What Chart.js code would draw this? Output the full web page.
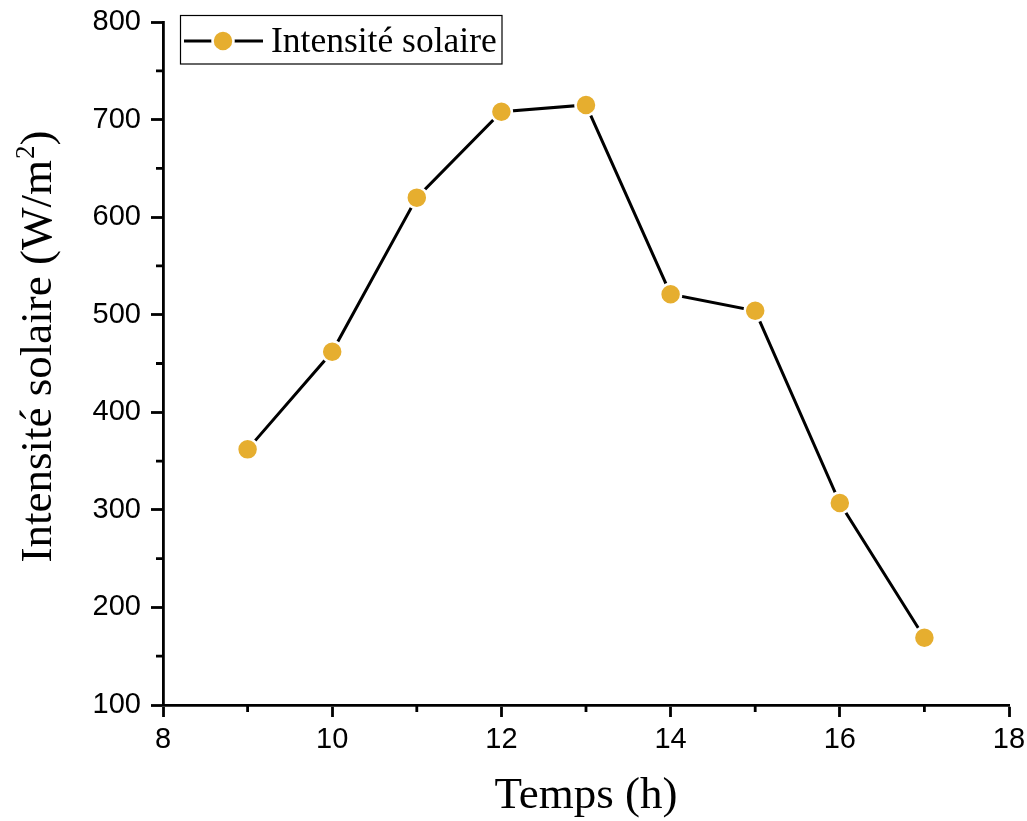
<!DOCTYPE html>
<html>
<head>
<meta charset="utf-8">
<title>Intensité solaire</title>
<script src="https://cdn.jsdelivr.net/npm/chart.js@4.4.1/dist/chart.umd.min.js"></script>
<style>
  html, body { margin: 0; padding: 0; background: #fff; }
  #wrap { width: 1027px; height: 821px; position: relative; }
</style>
</head>
<body>
<div id="wrap"><canvas id="solarChart"></canvas></div>
<script>
// heures de mesure et intensité solaire mesurée (W/m²)
const heures = [9, 10, 11, 12, 13, 14, 15, 16, 17];
const intensite = [362, 462, 620, 708, 715, 521, 504, 307, 169];

// graduations des axes
const xTicks = [8, 10, 12, 14, 16, 18];
const yTicks = [100, 200, 300, 400, 500, 600, 700, 800];
const xMinor = [9, 11, 13, 15, 17];
const yMinor = [150, 250, 350, 450, 550, 650, 750];

const yTitle = ['Intensité solaire (W/m', '2', ')'];

const OR = '#e6ae2f';
const SANS = "'Liberation Sans', Arial, sans-serif";
const SERIF = "'Liberation Serif', 'Times New Roman', serif";

// petites graduations (Chart.js ne gère qu'une longueur de tick)
const minorTicks = {
    id: 'minorTicks',
    afterDraw(chart) {
        const { ctx, chartArea, scales } = chart;
        ctx.save();
        ctx.strokeStyle = '#000';
        ctx.lineWidth = 2.8;
        ctx.beginPath();
        xMinor.forEach(v => {
            const px = scales.x.getPixelForValue(v);
            ctx.moveTo(px, chartArea.bottom);
            ctx.lineTo(px, chartArea.bottom + 7);
        });
        yMinor.forEach(v => {
            const py = scales.y.getPixelForValue(v);
            ctx.moveTo(chartArea.left, py);
            ctx.lineTo(chartArea.left - 7, py);
        });
        ctx.stroke();
        ctx.restore();
    }
};

// titre vertical avec l'exposant du m²
const yAxisTitle = {
    id: 'yAxisTitle',
    afterDraw(chart) {
        const { ctx } = chart;
        const big = `45px ${SERIF}`;
        const small = `27px ${SERIF}`;
        ctx.save();
        ctx.font = big;
        const w1 = ctx.measureText(yTitle[0]).width;
        const w3 = ctx.measureText(yTitle[2]).width;
        ctx.font = small;
        const w2 = ctx.measureText(yTitle[1]).width;
        const total = w1 + w2 + w3;
        ctx.translate(51, 347 + total / 2);
        ctx.rotate(-Math.PI / 2);
        ctx.fillStyle = '#000';
        ctx.textBaseline = 'alphabetic';
        ctx.textAlign = 'left';
        ctx.font = big;
        ctx.fillText(yTitle[0], 0, 0);
        ctx.font = small;
        ctx.fillText(yTitle[1], w1 + 1, -17);
        ctx.font = big;
        ctx.fillText(yTitle[2], w1 + w2 + 1, 0);
        ctx.restore();
    }
};

// légende encadrée dans le coin haut gauche du graphe
const legendBox = {
    id: 'legendBox',
    afterDraw(chart) {
        const { ctx } = chart;
        const ds = chart.data.datasets[0];
        ctx.save();
        ctx.strokeStyle = '#000';
        ctx.lineWidth = 1.2;
        ctx.strokeRect(180.5, 15.5, 321.5, 48.5);

        ctx.lineWidth = 3;
        ctx.beginPath();
        ctx.moveTo(184, 41);
        ctx.lineTo(263, 41);
        ctx.stroke();

        ctx.beginPath();
        ctx.arc(223, 41, 10.5, 0, Math.PI * 2);
        ctx.fillStyle = OR;
        ctx.fill();
        ctx.lineWidth = 2.5;
        ctx.strokeStyle = '#fff';
        ctx.stroke();

        ctx.font = `35.5px ${SERIF}`;
        ctx.fillStyle = '#000';
        ctx.textBaseline = 'alphabetic';
        ctx.fillText(ds.label, 271, 52);
        ctx.restore();
    }
};

const axisCommon = {
    type: 'linear',
    border: { display: true, color: '#000', width: 2.8 },
    grid: {
        display: true,
        drawOnChartArea: false,
        drawTicks: true,
        tickLength: 12,
        tickWidth: 2.8,
        tickColor: '#000',
        color: '#000'
    }
};

new Chart(document.getElementById('solarChart').getContext('2d'), {
    type: 'line',
    data: {
        datasets: [{
            label: 'Intensité solaire',
            data: heures.map((h, i) => ({ x: h, y: intensite[i] })),
            borderColor: '#000',
            borderWidth: 3,
            tension: 0,
            fill: false,
            pointRadius: 10.5,
            pointHoverRadius: 10.5,
            pointBackgroundColor: OR,
            pointBorderColor: '#fff',
            pointBorderWidth: 2.5
        }]
    },
    options: {
        responsive: true,
        maintainAspectRatio: false,
        animation: false,
        events: [],
        layout: { padding: { top: 22, right: 18, bottom: 0, left: 0 } },
        plugins: {
            legend: { display: false },
            tooltip: { enabled: false }
        },
        scales: {
            x: {
                ...axisCommon,
                position: 'bottom',
                min: 8,
                max: 18,
                afterBuildTicks: s => { s.ticks = xTicks.map(v => ({ value: v })); },
                afterFit: s => {
                    s.height = 116;
                    s.paddingLeft = 0;
                    s.paddingRight = 0;
                },
                ticks: {
                    color: '#000',
                    padding: 6,
                    maxRotation: 0,
                    autoSkip: false,
                    font: { family: SANS, size: 29 }
                },
                title: {
                    display: true,
                    text: 'Temps (h)',
                    color: '#000',
                    font: { family: SERIF, size: 45, lineHeight: 1.0 },
                    padding: { top: 0, bottom: 2 }
                }
            },
            y: {
                ...axisCommon,
                position: 'left',
                min: 100,
                max: 800,
                afterBuildTicks: s => { s.ticks = yTicks.map(v => ({ value: v })); },
                afterFit: s => {
                    s.width = 163;
                    s.paddingTop = 0;
                    s.paddingBottom = 0;
                },
                ticks: {
                    color: '#000',
                    padding: 10,
                    autoSkip: false,
                    font: { family: SANS, size: 29 }
                },
                title: { display: false }
            }
        }
    },
    plugins: [minorTicks, yAxisTitle, legendBox]
});
</script>
</body>
</html>
